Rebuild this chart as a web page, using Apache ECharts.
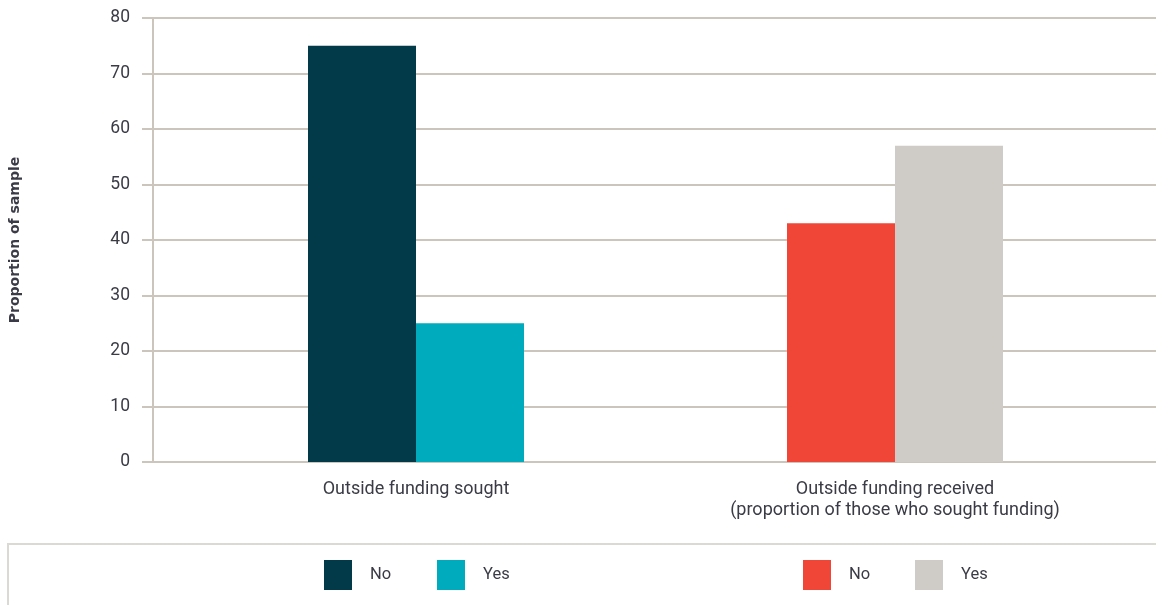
<!DOCTYPE html>
<html>
<head>
<meta charset="utf-8">
<script src="https://cdn.jsdelivr.net/npm/echarts@6/dist/echarts.min.js"></script>
<style>
  html, body { margin: 0; padding: 0; background: #fff; }
  #chart { width: 1156px; height: 605px; }
</style>
</head>
<body>
<div id="chart"></div>
<script>
// Share of firms that sought outside funding, and share of those that received it
const categories = [
  'Outside funding sought',
  'Outside funding received\n(proportion of those who sought funding)'
];
const soughtNo = [75, '-'];
const soughtYes = [25, '-'];
const receivedNo = ['-', 43];
const receivedYes = ['-', 57];
const yTicks = [0, 10, 20, 30, 40, 50, 60, 70, 80];

const seriesNames = ['Sought: No', 'Sought: Yes', 'Received: No', 'Received: Yes'];
const colors = ['#023a49', '#00abbd', '#ef4638', '#cfccc7'];

const FONT = 'Roboto';
const TEXT = '#3b3b47';
const RULE = '#cbc5bc';

const chart = echarts.init(document.getElementById('chart'), null, { renderer: 'canvas' });

function legendAt(name, left) {
  return {
    data: [name],
    left: left,
    top: 560,
    padding: 0,
    itemWidth: 28,
    itemHeight: 30,
    icon: 'rect',
    selectedMode: false,
    formatter: n => n.split(': ')[1],
    textStyle: { fontFamily: FONT, fontSize: 16.5, color: TEXT, padding: [0, 0, 0, 13] }
  };
}

chart.setOption({
  animation: false,
  backgroundColor: '#fff',
  grid: [
    { left: 151, right: 0, top: 18, bottom: 143 },
    { left: 176.5, right: 21.5, top: 18, bottom: 143 }
  ],
  xAxis: [
    { gridIndex: 0, type: 'value', min: 0, max: 1, show: false },
    {
      gridIndex: 1,
      type: 'category',
      data: categories,
      axisLine: { show: false },
      axisTick: { show: false },
      axisLabel: {
        margin: 17,
        fontFamily: FONT,
        fontSize: 18,
        color: TEXT,
        lineHeight: 21
      }
    }
  ],
  yAxis: [
    {
      gridIndex: 0,
      type: 'value',
      min: yTicks[0],
      max: yTicks[yTicks.length - 1],
      interval: 10,
      name: 'Proportion of sample',
      nameLocation: 'middle',
      nameRotate: 90,
      nameGap: 131,
      nameTextStyle: { fontFamily: 'DejaVu Sans', fontWeight: 'bold', fontSize: 14, color: TEXT },
      axisLine: { show: true, lineStyle: { color: RULE, width: 2 } },
      axisTick: { show: true, inside: false, length: 11, lineStyle: { color: RULE, width: 2 } },
      splitLine: { show: true, lineStyle: { color: RULE, width: 2 } },
      axisLabel: { margin: 23, fontFamily: FONT, fontSize: 17.5, color: TEXT }
    },
    { gridIndex: 1, type: 'value', min: 0, max: 80, show: false }
  ],
  legend: [
    legendAt(seriesNames[0], 324),
    legendAt(seriesNames[1], 437),
    legendAt(seriesNames[2], 803),
    legendAt(seriesNames[3], 915)
  ],
  graphic: [
    {
      type: 'rect',
      shape: { x: 8, y: 544, width: 1170, height: 80 },
      style: { fill: 'none', stroke: '#dcd9d5', lineWidth: 2 },
      silent: true,
      z: -1
    }
  ],
  series: [
    { name: seriesNames[0], data: soughtNo, stack: 'no' },
    { name: seriesNames[1], data: soughtYes, stack: 'yes' },
    { name: seriesNames[2], data: receivedNo, stack: 'no' },
    { name: seriesNames[3], data: receivedYes, stack: 'yes' }
  ].map((s, i) => Object.assign(s, {
    type: 'bar',
    xAxisIndex: 1,
    yAxisIndex: 1,
    barWidth: 108,
    barGap: '0%',
    itemStyle: { color: colors[i] },
    emphasis: { disabled: true }
  }))
});
</script>
</body>
</html>
